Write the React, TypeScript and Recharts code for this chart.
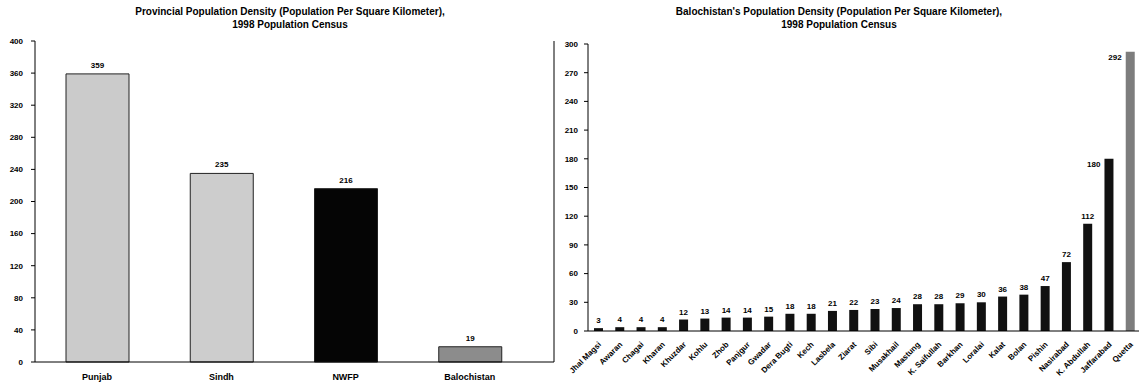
import React from 'react';
import { BarChart, Bar, XAxis, YAxis, Cell, LabelList } from 'recharts';

const provinces = ['Punjab', 'Sindh', 'NWFP', 'Balochistan'];
const provinceDensity = [359, 235, 216, 19];
const provinceTicks = [0, 40, 80, 120, 160, 200, 240, 280, 320, 360, 400];

const districts = [
  'Jhal Magsi', 'Awaran', 'Chagai', 'Kharan', 'Khuzdar', 'Kohlu', 'Zhob', 'Panjgur',
  'Gwadar', 'Dera Bugti', 'Kech', 'Lasbela', 'Ziarat', 'Sibi', 'Musakhail', 'Mastung',
  'K. Saifullah', 'Barkhan', 'Loralai', 'Kalat', 'Bolan', 'Pishin', 'Nasirabad',
  'K. Abdullah', 'Jaffarabad', 'Quetta',
];
const districtDensity = [
  3, 4, 4, 4, 12, 13, 14, 14, 15, 18, 18, 21, 22, 23, 24, 28, 28, 29, 30, 36, 38, 47, 72,
  112, 180, 292,
];
const districtTicks = [0, 30, 60, 90, 120, 150, 180, 210, 240, 270, 300];

// fills
const provinceColors = ['#cbcbcb', '#cdcdcd', '#050505', '#8c8c8c'];
const districtColor = '#111111';
const quettaColor = '#7d7d7d';

const provinceRows = provinces.map((name, i) => ({ name, value: provinceDensity[i] }));
const districtRows = districts.map((name, i) => ({ name, value: districtDensity[i] }));

const FONT = '"Liberation Sans", Arial, sans-serif';
const tickStyle = { fontSize: 8, fontWeight: 700, fill: '#000', fontFamily: FONT };
const axisStroke = { stroke: '#000', strokeWidth: 1 };

const titleStyle: React.CSSProperties = {
  position: 'absolute',
  top: 5,
  fontFamily: FONT,
  fontSize: 10,
  fontWeight: 700,
  lineHeight: '13px',
  textAlign: 'center',
  whiteSpace: 'nowrap',
};

const SlantTick = ({ x, y, payload }: any) => (
  <text
    x={x + 3}
    y={y + 6}
    textAnchor="end"
    transform={`rotate(-45, ${x + 3}, ${y + 6})`}
    style={tickStyle}
  >
    {payload.value}
  </text>
);

// the tallest bars have their number beside the top, not above it
const DistrictLabel = ({ x, y, width, value }: any) => {
  if (value > 150) {
    return (
      <text x={x - 4} y={y + 8} textAnchor="end" style={tickStyle}>
        {value}
      </text>
    );
  }
  return (
    <text x={x + width / 2} y={y - 5} textAnchor="middle" style={tickStyle}>
      {value}
    </text>
  );
};

export default function App() {
  return (
    <div style={{ position: 'absolute', left: 0, top: 0, width: 1139, height: 383, background: '#fff', overflow: 'hidden' }}>
      <div style={{ ...titleStyle, left: 0, width: 580 }}>
        Provincial Population Density (Population Per Square Kilometer),
        <br />
        1998 Population Census
      </div>
      <div style={{ ...titleStyle, left: 548, width: 582 }}>
        Balochistan's Population Density (Population Per Square Kilometer),
        <br />
        1998 Population Census
      </div>

      <div style={{ position: 'absolute', left: 0, top: 0 }}>
        <BarChart width={560} height={383} data={provinceRows} margin={{ top: 41, right: 5, bottom: 0, left: 0 }}>
          <XAxis
            dataKey="name"
            height={21}
            tickLine={false}
            axisLine={axisStroke}
            tick={{ ...tickStyle, fontSize: 9 }}
            tickMargin={6}
            padding={{ left: 0, right: 22 }}
            interval={0}
          />
          <XAxis xAxisId="frame" orientation="top" dataKey="name" height={0} tick={false} tickLine={false} axisLine={axisStroke} />
          <YAxis
            domain={[0, 400]}
            ticks={provinceTicks}
            width={35}
            tickSize={4}
            tickMargin={8}
            axisLine={axisStroke}
            tickLine={axisStroke}
            tick={tickStyle}
            interval={0}
          />
          <YAxis
            yAxisId="frame"
            orientation="right"
            type="number"
            domain={[0, 400]}
            ticks={provinceTicks}
            width={1}
            tickSize={3}
            tick={false}
            tickLine={{ stroke: '#555' }}
            axisLine={axisStroke}
          />
          <Bar dataKey="value" barSize={63} stroke="#222" strokeWidth={1} isAnimationActive={false}>
            {provinceRows.map((row, i) => (
              <Cell key={row.name} fill={provinceColors[i]} />
            ))}
            <LabelList dataKey="value" position="top" offset={6} style={tickStyle} />
          </Bar>
        </BarChart>
      </div>

      <div style={{ position: 'absolute', left: 560, top: 0 }}>
        <BarChart width={581} height={383} data={districtRows} margin={{ top: 44, right: 0, bottom: 0, left: 0 }}>
          <XAxis
            dataKey="name"
            height={52}
            tickLine={false}
            axisLine={axisStroke}
            tick={<SlantTick />}
            interval={0}
          />
          <XAxis xAxisId="frame" orientation="top" dataKey="name" height={0} tick={false} tickLine={false} axisLine={axisStroke} />
          <YAxis
            domain={[0, 300]}
            ticks={districtTicks}
            width={28}
            tickSize={4}
            tickMargin={6}
            axisLine={axisStroke}
            tickLine={axisStroke}
            tick={tickStyle}
            interval={0}
          />
          <Bar dataKey="value" barSize={9} isAnimationActive={false}>
            {districtRows.map((row, i) => (
              <Cell key={row.name} fill={i === districtRows.length - 1 ? quettaColor : districtColor} />
            ))}
            <LabelList dataKey="value" content={<DistrictLabel />} />
          </Bar>
        </BarChart>
      </div>
    </div>
  );
}
